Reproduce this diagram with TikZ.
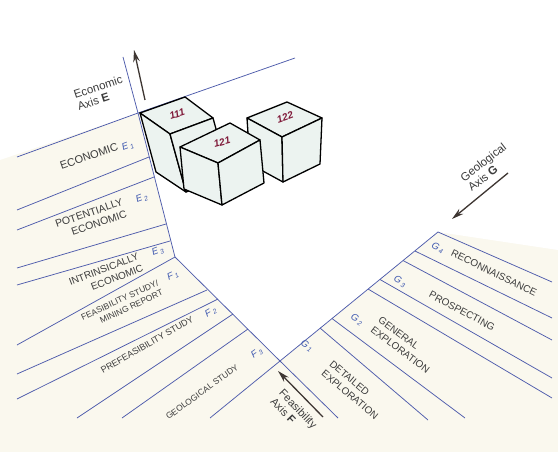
\documentclass[tikz,border=0pt]{standalone}
\usepackage{fontspec}
\setmainfont{Liberation Sans}
\usetikzlibrary{arrows.meta}
\definecolor{lineblue}{RGB}{78,92,172}
\definecolor{codeblue}{RGB}{62,88,175}
\definecolor{textgray}{RGB}{60,60,60}
\definecolor{cubefill}{RGB}{236,243,240}
\definecolor{cubered}{RGB}{128,26,58}
\definecolor{arrowgray}{RGB}{62,54,50}
\definecolor{paper}{RGB}{250,248,238}
\tikzset{
  bandline/.style={draw=lineblue, line width=0.75pt},
  cat/.style={text=textgray, font=\fontsize{10}{12.5}\selectfont, inner sep=0pt},
  code/.style={text=codeblue, font=\fontsize{9.5}{10}\selectfont\itshape, inner sep=0pt},
  cube/.style={draw=black, line width=1.3pt, fill=cubefill, line join=round},
  cubenum/.style={text=cubered, font=\fontsize{10}{11}\selectfont\bfseries\itshape, inner sep=0pt},
  axisarrow/.style={draw=arrowgray, line width=1.3pt, -{Stealth[length=12pt,width=6.5pt]}},
  axislabel/.style={text=textgray, font=\fontsize{11.5}{12.5}\selectfont, inner sep=0pt, align=left}
}
\begin{document}
\begin{tikzpicture}[x=1pt,y=-1pt]
		\useasboundingbox (0,0) rectangle (558,452);
		\fill[paper] (0,0) rectangle (558,452);
		\fill[white] (0,0) -- (558,0) -- (558,250) -- (438,232) -- (280,361) -- (175,257) -- (138,113) -- (0,160) -- cycle;
		\coordinate (top) at (123,57);
		\coordinate (ecorner) at (138,113);
		\coordinate (fcorner) at (175,257);
		\coordinate (origin) at (280,361);
		\coordinate (gend) at (438,232);
		\coordinate (back) at (295,58);
		\draw[bandline] (top) -- (ecorner) -- (fcorner) -- (origin) -- (gend);
		\draw[bandline] (17,157) -- (ecorner) -- (back);
		\foreach \xa/\ya/\xb/\yb in {17/210/149/157, 17/230/154/177, 17/268/166/224, 17/285/170/241, 17/345/175/257}
		\draw[bandline] (\xa,\ya) -- (\xb,\yb);
		\foreach \xa/\ya/\xb/\yb in {17/374/207/290, 17/399/218/299, 77/418/233/314, 122/418/248/329, 210/418/280/361}
		\draw[bandline] (\xa,\ya) -- (\xb,\yb);
		\foreach \xa/\ya/\xb/\yb in {280/361/338/418, 320/328/428/420, 332/318.5/465/418, 368/289/552/398, 380/279.5/552/378, 403/260.5/552/340, 415/251/552/318, 438/232/552/282}
		\draw[bandline] (\xa,\ya) -- (\xb,\yb);
		\filldraw[cube] (140,113) -- (185,97) -- (213,118) -- (170,134) -- cycle;
		\filldraw[cube] (140,113) -- (170,134) -- (186,192) -- (156,172) -- cycle;
		\filldraw[cube] (170,134) -- (213,118) -- (229,176) -- (186,192) -- cycle;
		\filldraw[cube] (247,118) -- (287,102) -- (322,118) -- (282,137) -- cycle;
		\filldraw[cube] (247,118) -- (282,137) -- (283,182) -- (250,164) -- cycle;
		\filldraw[cube] (282,137) -- (322,118) -- (320,164) -- (283,182) -- cycle;
		\filldraw[cube] (180,147) -- (230,123) -- (260,140) -- (218,163) -- cycle;
		\filldraw[cube] (180,147) -- (218,163) -- (222,205) -- (184,189) -- cycle;
		\filldraw[cube] (218,163) -- (260,140) -- (264,183) -- (222,205) -- cycle;
		\node[cubenum, rotate=18] (n111) at (177,114) {111};
		\node[cubenum, rotate=15] (n121) at (222,142) {121};
		\node[cubenum, rotate=20] (n122) at (285,117) {122};
		\coordinate (etail) at (145,100);
		\coordinate (ehead) at (134,50);
		\coordinate (gtail) at (508,173);
		\coordinate (ghead) at (452,219);
		\coordinate (ftail) at (323,417);
		\coordinate (fhead) at (278,371);
		\draw[axisarrow] (etail) -- (ehead);
		\draw[axisarrow] (gtail) -- (ghead);
		\draw[axisarrow] (ftail) -- (fhead);
		\node[axislabel, rotate=18] (eaxis) at (100,93) {Economic\\Axis \textbf{E}};
		\node[axislabel, rotate=38] (gaxis) at (487,167) {Geological\\Axis \textbf{G}};
		\node[axislabel, rotate=-46, font=\fontsize{11}{12}\selectfont] (faxis) at (294,413) {Feasibility\\Axis \textbf{F}};
		\node[cat, rotate=19, font=\fontsize{11}{12}\selectfont] (econ) at (89,156) {ECONOMIC};
		\node[cat, rotate=19, align=right, font=\fontsize{10.5}{12.5}\selectfont] (poten) at (91,219) {POTENTIALLY\\ECONOMIC};
		\node[cat, rotate=21, align=right] (intrin) at (106,275) {INTRINSICALLY\\ECONOMIC};
		\node[cat, rotate=25, align=right, font=\fontsize{8.5}{10.5}\selectfont] (feas) at (122,305) {FEASIBILITY STUDY/\\MINING REPORT};
		\node[cat, rotate=30, font=\fontsize{9}{10}\selectfont] (prefeas) at (147,345) {PREFEASIBILITY STUDY};
		\node[cat, rotate=36, font=\fontsize{8.5}{9}\selectfont] (geol) at (202,392) {GEOLOGICAL STUDY};
		\node[cat, rotate=-40, align=left] (detail) at (354,390) {DETAILED\\EXPLORATION};
		\node[cat, rotate=-37, align=left] (general) at (404,345) {GENERAL\\EXPLORATION};
		\node[cat, rotate=-28] (prosp) at (462,311) {PROSPECTING};
		\node[cat, rotate=-26] (recon) at (494,273) {RECONNAISSANCE};
		\node[code, rotate=20] (e1) at (128,146) {E\,\textsubscript{1}};
		\node[code, rotate=20] (e2) at (142,198) {E\,\textsubscript{2}};
		\node[code, rotate=20] (e3) at (158,251) {E\,\textsubscript{3}};
		\node[code, rotate=25] (f1) at (173,276) {F\,\textsubscript{1}};
		\node[code, rotate=30] (f2) at (211,312) {F\,\textsubscript{2}};
		\node[code, rotate=35] (f3) at (257,353) {F\,\textsubscript{3}};
		\node[code, rotate=-35] (g1) at (307,346) {G\,\textsubscript{1}};
		\node[code, rotate=-32] (g2) at (357,320) {G\,\textsubscript{2}};
		\node[code, rotate=-30] (g3) at (400,282) {G\,\textsubscript{3}};
		\node[code, rotate=-28] (g4) at (438,248) {G\,\textsubscript{4}};
	\end{tikzpicture}
\end{document}
